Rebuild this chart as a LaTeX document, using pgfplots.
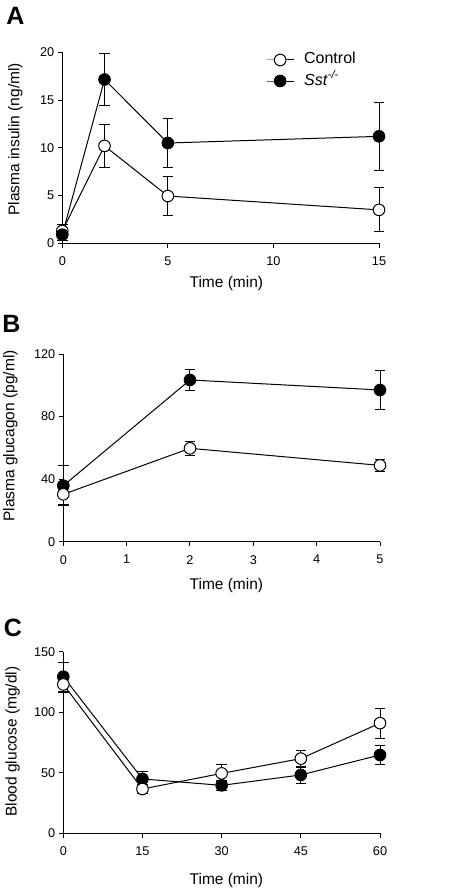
\documentclass[border=0pt]{standalone}
\usepackage{pgfplots}
\pgfplotsset{compat=1.18}
\usepackage{fontspec}
\setmainfont{Liberation Sans}

\newcommand{\labfont}{\fontsize{15.5}{17}\selectfont}
\pgfplotsset{
 panel/.style={
  scale only axis, width=316.7pt,
  axis x line*=bottom, axis y line*=left,
  axis line style={-, line width=1pt},
  tick align=outside, major tick length=4.5pt,
  every tick/.style={black, line width=1pt},
  tick label style={font=\fontsize{12.7}{14}\selectfont},
  xticklabel style={yshift=-5.5pt},
  /pgf/number format/assume math mode=true,
  xlabel={Time (min)},
  clip=false, ymin=0, xmin=0,
 },
 ctrl/.style={black, line width=1pt, mark=*, mark size=5.8pt,
   mark options={fill=white, line width=1pt},
   error bars/.cd, y dir=both, y explicit,
   error bar style={line width=1pt},
   error mark options={rotate=90, mark size=5.3pt, line width=1pt}},
 sst/.style={black, line width=1pt, mark=*, mark size=5.8pt,
   mark options={fill=black, line width=1pt},
   error bars/.cd, y dir=both, y explicit,
   error bar style={line width=1pt},
   error mark options={rotate=90, mark size=5.3pt, line width=1pt}},
}

\begin{document}
\begin{tikzpicture}
\path[use as bounding box] (0,0) rectangle (470pt,-890pt);

% Panel letters
\node[font=\bfseries\fontsize{25}{25}\selectfont] at (15.5pt,-16pt) {A};
\node[font=\bfseries\fontsize{25}{25}\selectfont] at (11.5pt,-323.5pt) {B};
\node[font=\bfseries\fontsize{25}{25}\selectfont] at (13pt,-628pt) {C};

% Panel A
\begin{axis}[panel, at={(62.3pt,-243.3pt)}, anchor=south west,
  height=191pt, xmax=15, ymax=20,
  xtick={0,5,10,15}, ytick={0,5,10,15,20},
  ylabel={Plasma insulin (ng/ml)},
  every axis x label/.style={at={(axis description cs:0.518,0)}, anchor=center, yshift=-40pt, font=\labfont},
  every axis y label/.style={at={(axis description cs:-0.148,0.545)}, rotate=90, anchor=center, font=\labfont},
  legend style={draw=none, fill=none, inner sep=0pt,
    at={(axis description cs:0.643,1.0)}, anchor=north west,
    font=\fontsize{16}{18}\selectfont,
    nodes={inner sep=0pt, text height=11.5pt, text depth=3.5pt},
    row sep=6pt,
    /tikz/every odd column/.append style={column sep=10pt}},
  legend cell align=left,
  legend image code/.code={\draw[mark repeat=2, mark phase=2] plot coordinates {(0pt,0pt) (13.5pt,0pt) (27pt,0pt)};},
]
\addplot[ctrl] coordinates {(0,1.3) +- (0,0.7) (2,10.2) +- (0,2.25) (5,4.95) +- (0,2.0) (15,3.5) +- (0,2.3)};
\addlegendentry{Control}
\addplot[sst] coordinates {(0,0.9) +- (0,0.6) (2,17.15) +- (0,2.75) (5,10.5) +- (0,2.6) (15,11.2) +- (0,3.55)};
\addlegendentry{\textit{Sst}\textsuperscript{\textit{-/-}}}
\end{axis}

% Panel B
\begin{axis}[panel, at={(63.3pt,-541.7pt)}, anchor=south west,
  height=187.7pt, xmax=5, ymax=120,
  xtick={0,1,2,3,4,5}, ytick={0,40,80,120},
  ylabel={Plasma glucagon (pg/ml)},
  every axis x label/.style={at={(axis description cs:0.515,0)}, anchor=center, yshift=-43.3pt, font=\labfont},
  every axis y label/.style={at={(axis description cs:-0.167,0.563)}, rotate=90, anchor=center, font=\labfont},
]
\addplot[sst] coordinates {(0,35.8) +- (0,12.7) (2,103.4) +- (0,6.7) (5,97) +- (0,12.2)};
\addplot[ctrl] coordinates {(0,30.3) +- (0,6.5) (2,59.7) +- (0,4.5) (5,48.8) +- (0,3.6)};
\end{axis}

% Panel C
\begin{axis}[panel, at={(63.3pt,-833.3pt)}, anchor=south west,
  height=181.6pt, xmax=60, ymax=150,
  xtick={0,15,30,45,60}, ytick={0,50,100,150},
  ylabel={Blood glucose (mg/dl)},
  every axis x label/.style={at={(axis description cs:0.515,0)}, anchor=center, yshift=-46.7pt, font=\labfont},
  every axis y label/.style={at={(axis description cs:-0.16,0.505)}, rotate=90, anchor=center, font=\labfont},
]
\addplot[sst] coordinates {(0,129.4) +- (0,12) (15,44.9) +- (0,6.3) (30,39.6) +- (0,4.4) (45,48.2) +- (0,7.2) (60,64.7) +- (0,8.2)};
\addplot[ctrl] coordinates {(0,123) +- (0,7) (15,36.6) +- (0,4) (30,49.5) +- (0,7) (45,61.7) +- (0,7) (60,91) +- (0,12.3)};
\end{axis}
\end{tikzpicture}
\end{document}
